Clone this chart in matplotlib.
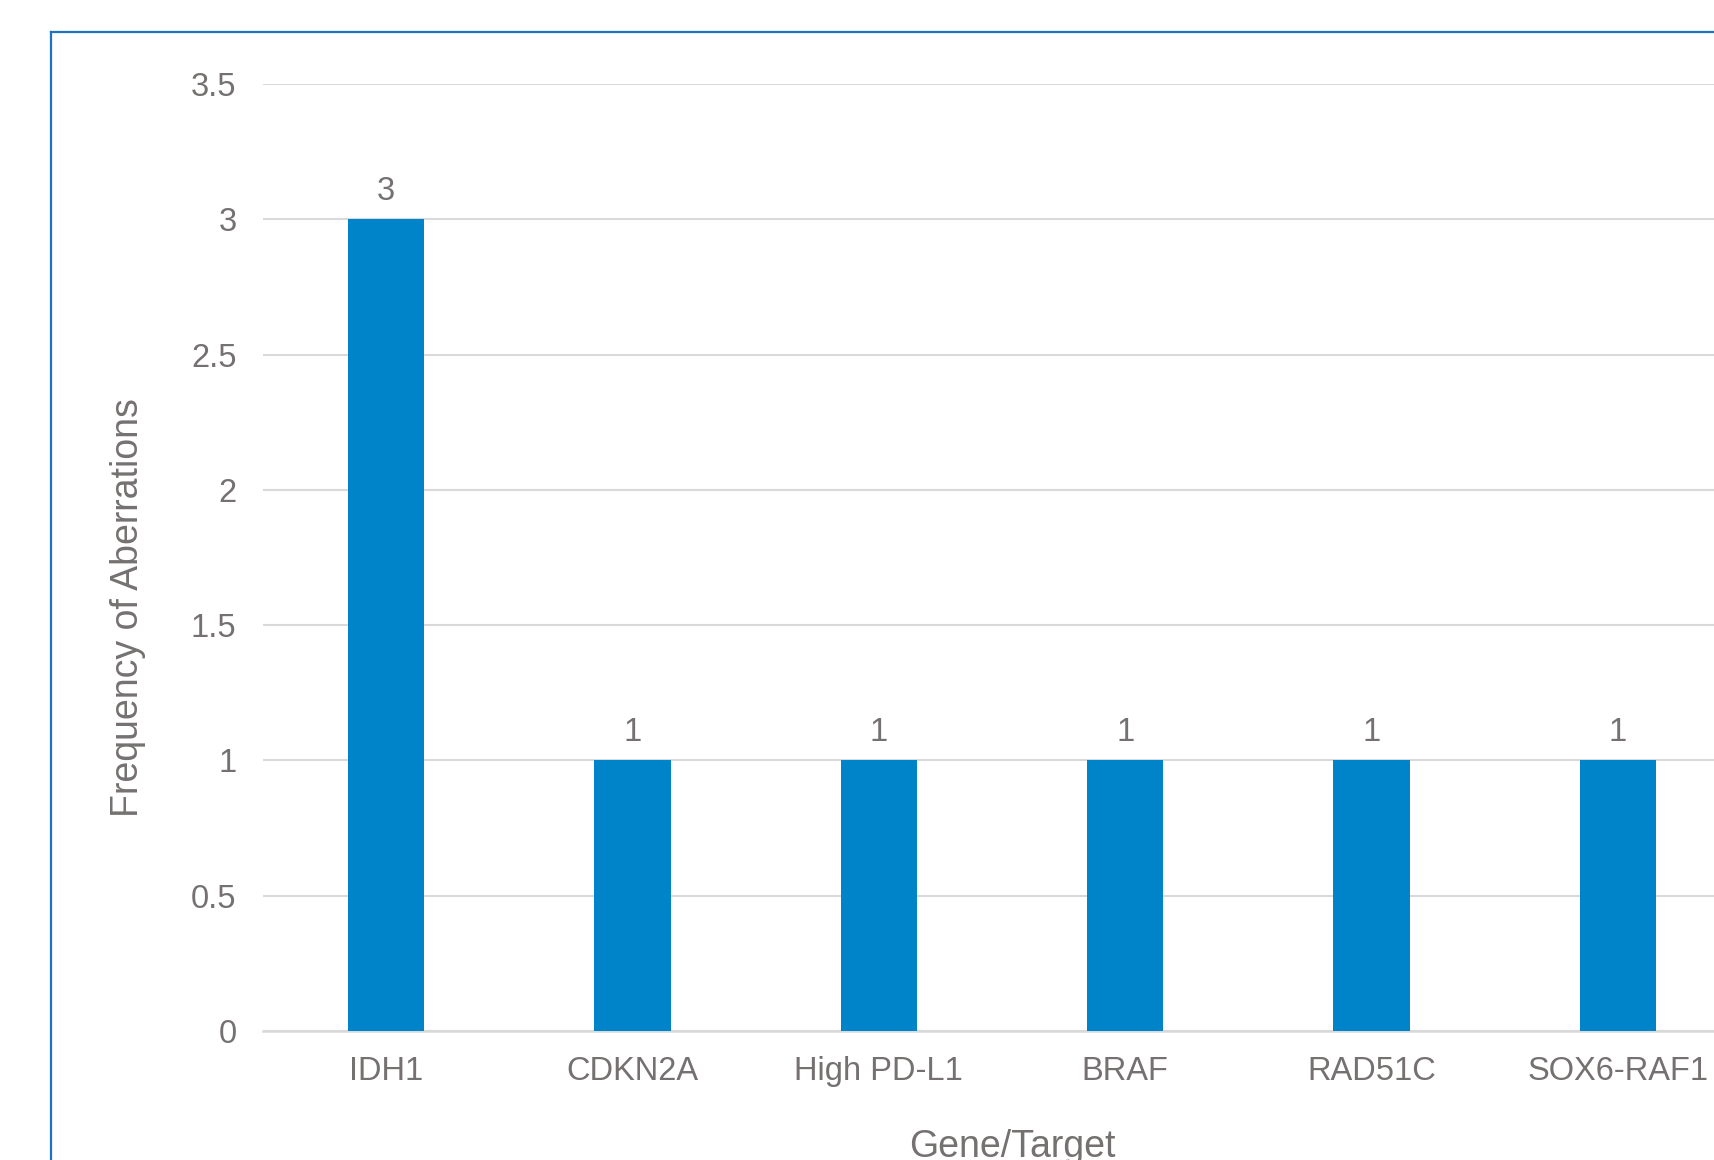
import matplotlib
matplotlib.use("Agg")
import matplotlib.pyplot as plt
from matplotlib.lines import Line2D
import numpy as np

genes = ['IDH1', 'CDKN2A', 'High PD-L1', 'BRAF', 'RAD51C', 'SOX6-RAF1']
counts = [3, 1, 1, 1, 1, 1]
y_ticks = [0, 0.5, 1, 1.5, 2, 2.5, 3, 3.5]
y_tick_labels = ['0', '0.5', '1', '1.5', '2', '2.5', '3', '3.5']

text_color = '#767171'
bar_color = '#0084C9'
grid_color = '#D9D9D9'
border_color = '#1F74C0'

plt.rcParams['font.family'] = ['Liberation Sans', 'DejaVu Sans']

fig = plt.figure(figsize=(17.14, 11.60), dpi=100)
# plot area runs a little past the right edge, like the cropped original
ax = fig.add_axes([0.1534, 0.1112, 0.8624, 0.8164])

xs = np.arange(len(genes))
bars = ax.bar(xs, counts, width=0.31, color=bar_color, zorder=3)

for x, v in zip(xs, counts):
    ax.annotate(f'{v}', (x, v), xytext=(0, 9), textcoords='offset points',
                ha='center', va='bottom', fontsize=23.5, color=text_color)

ax.set_xlim(-0.5, 5.5)
ax.set_ylim(0, 3.5)
ax.set_yticks(y_ticks)
ax.set_yticklabels(y_tick_labels)
ax.set_xticks(xs)
ax.set_xticklabels(genes)

ax.yaxis.grid(True, color=grid_color, linewidth=1.5, zorder=0)
ax.set_axisbelow(True)
for side in ['top', 'right', 'left']:
    ax.spines[side].set_visible(False)
ax.spines['bottom'].set_color(grid_color)
ax.spines['bottom'].set_linewidth(1.8)

ax.tick_params(axis='both', length=0, labelsize=23.5, colors=text_color)
ax.tick_params(axis='y', pad=19)
ax.tick_params(axis='x', pad=18)

ax.set_ylabel('Frequency of Aberrations', fontsize=27, color=text_color)
ax.yaxis.set_label_coords(-0.079, 0.447)
ax.set_xlabel('Gene/Target', fontsize=27, color=text_color)
ax.xaxis.set_label_coords(0.507, -0.103)

# blue chart-area frame, cut off at the right and bottom
fx = 51 / 1714
fy = 1 - 32 / 1160
fig.add_artist(Line2D([fx, fx], [0, fy], transform=fig.transFigure,
                      color=border_color, linewidth=1.6))
fig.add_artist(Line2D([fx, 1], [fy, fy], transform=fig.transFigure,
                      color=border_color, linewidth=1.6))

fig.savefig('out.png', dpi=100)
